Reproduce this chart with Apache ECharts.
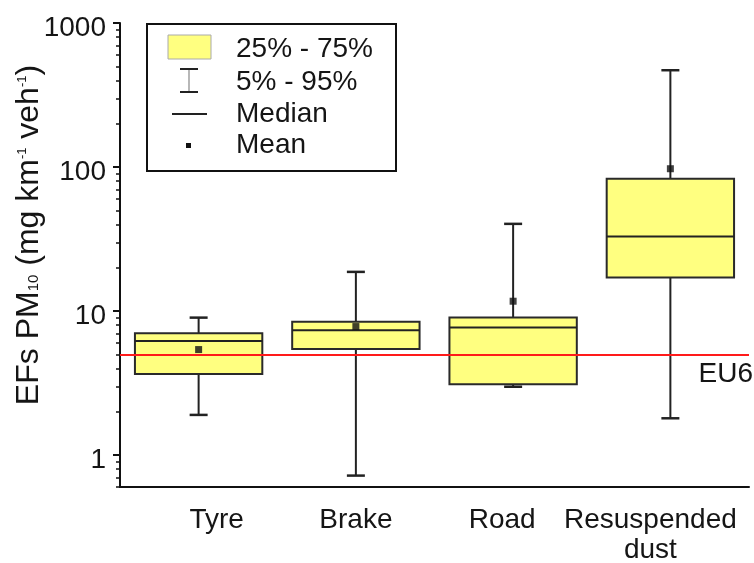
<!DOCTYPE html>
<html>
<head>
<meta charset="utf-8">
<script src="https://cdn.jsdelivr.net/npm/echarts@6/dist/echarts.min.js"></script>
<style>
html,body{margin:0;padding:0;background:#fff;}
#chart{width:754px;height:563px;}
</style>
</head>
<body>
<div id="chart"></div>
<script>
// ---- data ----
var categories = ['Tyre', 'Brake', 'Road', 'Resuspended\ndust'];
var p5     = [1.9, 0.72, 2.98, 1.8];
var p25    = [3.66, 5.44, 3.1, 17.1];
var median = [6.2, 7.36, 7.67, 32.9];
var p75    = [7.0, 8.44, 9.0, 83];
var p95    = [9.0, 18.7, 40.3, 470];
var mean   = [5.4, 7.8, 11.7, 97.3];
var eu6 = 5;
var majorTicks = [1, 10, 100, 1000];
var minorTicks = [0.6, 0.7, 0.8, 0.9, 2, 3, 4, 5, 6, 7, 8, 9, 20, 30, 40, 50, 60, 70, 80, 90, 200, 300, 400, 500, 600, 700, 800, 900];
var legendLabels = ['25% - 75%', '5% - 95%', 'Median', 'Mean'];

var boxData = categories.map(function (c, i) {
  return [i, p5[i], p25[i], median[i], p75[i], p95[i]];
});
var meanData = categories.map(function (c, i) { return [i, mean[i]]; });

var FONT = 'Liberation Sans, Arial, sans-serif';
var TXT = '#151515';
var FS = 28;

// per-category label nudges (labels in the reference are not all centred on ticks)
var labelPads = [[0, 0, 0, 36], [0, 0, 0, 0], [0, 22, 0, 0], [0, 40, 0, 0]];
var xData = categories.map(function (c, i) {
  return {value: c, textStyle: {padding: labelPads[i]}};
});

var chart = echarts.init(document.getElementById('chart'), null, {renderer: 'canvas'});

function renderBox(params, api) {
  var x = api.value(0);
  var bandW = api.size([1, 0])[0];
  var halfW = bandW * 0.405;
  var capHalf = 9;
  var pLow = api.coord([x, api.value(1)]);
  var pQ1 = api.coord([x, api.value(2)]);
  var pMed = api.coord([x, api.value(3)]);
  var pQ3 = api.coord([x, api.value(4)]);
  var pHigh = api.coord([x, api.value(5)]);
  var cx = pQ1[0];
  var lineStyle = {stroke: '#222', lineWidth: 2};
  return {
    type: 'group',
    children: [
      {type: 'line', shape: {x1: cx, y1: pQ3[1], x2: cx, y2: pHigh[1]}, style: lineStyle},
      {type: 'line', shape: {x1: cx, y1: pQ1[1], x2: cx, y2: pLow[1]}, style: lineStyle},
      {type: 'line', shape: {x1: cx - capHalf, y1: pHigh[1], x2: cx + capHalf, y2: pHigh[1]}, style: {stroke: '#222', lineWidth: 2.5}},
      {type: 'line', shape: {x1: cx - capHalf, y1: pLow[1], x2: cx + capHalf, y2: pLow[1]}, style: {stroke: '#222', lineWidth: 2.5}},
      {type: 'rect', shape: {x: cx - halfW, y: pQ3[1], width: 2 * halfW, height: pQ1[1] - pQ3[1]},
        style: {fill: '#ffff80', stroke: '#2a2a2a', lineWidth: 2}},
      {type: 'line', shape: {x1: cx - halfW, y1: pMed[1], x2: cx + halfW, y2: pMed[1]}, style: {stroke: '#222', lineWidth: 2}}
    ]
  };
}

var lx = 147, ly = 24;
var legendGraphics = [
  {type: 'rect', shape: {x: lx, y: ly, width: 249, height: 147}, style: {fill: '#fff', stroke: '#111', lineWidth: 2}, z: 100},
  {type: 'rect', shape: {x: 168, y: 35, width: 43, height: 24}, style: {fill: '#ffff80', stroke: '#aaa', lineWidth: 1}, z: 101},
  {type: 'line', shape: {x1: 189, y1: 69, x2: 189, y2: 92}, style: {stroke: '#888', lineWidth: 1.2}, z: 101},
  {type: 'line', shape: {x1: 180, y1: 69, x2: 198, y2: 69}, style: {stroke: '#222', lineWidth: 2}, z: 101},
  {type: 'line', shape: {x1: 180, y1: 92, x2: 198, y2: 92}, style: {stroke: '#222', lineWidth: 2}, z: 101},
  {type: 'line', shape: {x1: 172, y1: 114, x2: 207, y2: 114}, style: {stroke: '#222', lineWidth: 2}, z: 101},
  {type: 'rect', shape: {x: 186, y: 143, width: 5, height: 5}, style: {fill: '#111'}, z: 101}
];
var legendY = [49, 82, 114, 145];
legendLabels.forEach(function (t, i) {
  legendGraphics.push({
    type: 'text', x: 236, y: legendY[i], z: 101,
    style: {text: t, font: FS + 'px ' + FONT, fill: TXT, verticalAlign: 'middle', align: 'left'}
  });
});

legendGraphics.push({
  type: 'text', x: 29, y: 235, rotation: Math.PI / 2, z: 101,
  style: {
    text: '{n|EFs PM}{sub|10}{n| (mg km}{sup|-1}{n| veh}{sup|-1}{n|)}',
    align: 'center', verticalAlign: 'middle',
    rich: {
      n: {fontSize: 32, fontFamily: FONT, fill: TXT, lineHeight: 36, verticalAlign: 'middle'},
      sub: {fontSize: 15, fontFamily: FONT, fill: TXT, lineHeight: 36, verticalAlign: 'bottom', padding: [0, 0, 6, 0]},
      sup: {fontSize: 13, fontFamily: FONT, fill: TXT, lineHeight: 36, verticalAlign: 'top', padding: [5, 0, 0, 0]}
    }
  }
});

var option = {
  backgroundColor: '#fff',
  animation: false,
  grid: {left: 120, right: 5, top: 23, bottom: 76, containLabel: false, outerBoundsMode: 'none'},
  xAxis: {
    type: 'category',
    data: xData,
    boundaryGap: true,
    axisLine: {lineStyle: {color: '#111', width: 2}},
    axisTick: {alignWithLabel: true, length: 8, lineStyle: {color: '#111', width: 2}},
    axisLabel: {fontSize: FS, fontFamily: FONT, color: TXT, margin: 18, lineHeight: 30, interval: 0},
    splitLine: {show: false}
  },
  yAxis: [
    {
      type: 'log', logBase: 10, min: 0.6, max: 1000,
      axisLine: {show: true, lineStyle: {color: '#111', width: 2}},
      axisTick: {show: true, length: 7, customValues: majorTicks, lineStyle: {color: '#111', width: 2}},
      axisLabel: {fontSize: FS, fontFamily: FONT, color: TXT, margin: 14, customValues: majorTicks,
        formatter: function (v) { return '{a|' + Math.round(v) + '}'; },
        rich: {a: {fontSize: FS, fontFamily: FONT, color: TXT, lineHeight: 30, padding: [10, 0, 0, 0]}}},
      splitLine: {show: false}
    },
    {
      type: 'log', logBase: 10, min: 0.6, max: 1000, position: 'left',
      axisLine: {show: false},
      axisTick: {show: true, length: 4, customValues: minorTicks, lineStyle: {color: '#111', width: 1.5}},
      axisLabel: {show: false},
      splitLine: {show: false}
    }
  ],
  series: [
    {
      type: 'custom',
      renderItem: renderBox,
      data: boxData,
      encode: {x: 0, y: [1, 2, 3, 4, 5]},
      z: 2,
      markLine: {
        silent: true,
        symbol: 'none',
        lineStyle: {color: '#ff1a1a', width: 2, type: 'solid'},
        label: {show: true, position: 'insideEndBottom', formatter: 'EU6', fontSize: FS, fontFamily: FONT, color: TXT, distance: [-4, 6]},
        data: [{yAxis: eu6}],
        z: 10
      }
    },
    {
      type: 'scatter',
      data: meanData,
      symbol: 'rect',
      symbolSize: 7,
      itemStyle: {color: '#111'},
      z: 5
    }
  ],
  graphic: legendGraphics
};
chart.setOption(option);
</script>
</body>
</html>
